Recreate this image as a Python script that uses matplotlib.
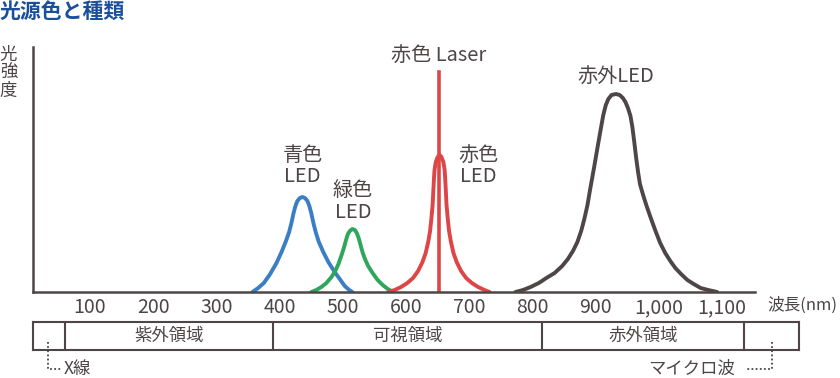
import matplotlib
matplotlib.use("Agg")
import matplotlib.pyplot as plt

plt.rcParams['font.family'] = ['Noto Sans CJK JP', 'DejaVu Sans']

# 波長 (nm) と 相対強度 (ピクセル相当の任意単位)
blue_nm = [357, 366, 375, 385, 395, 403, 410, 415, 419, 422, 425, 428, 432, 436, 440, 444, 447, 450, 453,
           457, 462, 469, 477, 486, 495, 503, 510, 515]
blue_i = [0, 4, 9, 18, 29, 40, 51, 60, 70, 79, 86, 91, 94, 95, 94, 91, 86, 79, 70,
          60, 50, 40, 30, 21, 13, 6, 2, 0]

green_nm = [450, 458, 466, 474, 482, 488, 493, 498, 502, 505, 508, 511, 515, 519, 522, 525, 528, 531, 535,
            540, 547, 555, 563, 571, 580]
green_i = [0, 2, 5, 9, 15, 21, 28, 37, 45, 52, 58, 61, 63, 62, 59, 54, 47, 40, 33,
           26, 19, 12, 7, 3, 0]

red_nm = [572, 582, 592, 602, 611, 619, 626, 631, 635, 638, 640, 642, 643, 644, 645, 647, 650, 653, 656,
          659, 661, 662, 663, 664, 666, 668, 671, 675, 680, 687, 695, 704, 714, 724, 732]
red_i = [0, 2, 5, 9, 14, 21, 30, 39, 50, 61, 73, 87, 100, 112, 122, 130, 135, 137, 135,
         130, 122, 112, 100, 87, 73, 61, 50, 39, 30, 21, 14, 9, 5, 2, 0]

ir_nm = [773, 785, 797, 810, 822, 835, 847, 856, 864, 871, 877, 882, 887, 891, 897, 903, 908, 912, 916,
         920, 925, 932, 938, 943, 947, 951, 955, 958, 961, 964, 967, 970, 975, 980, 986, 994, 1002, 1010,
         1018, 1026, 1035, 1045, 1055, 1066, 1078, 1092]
ir_i = [0, 2, 5, 9, 14, 19, 26, 33, 41, 50, 61, 73, 87, 102, 123, 145, 163, 177, 187,
        193, 197, 198, 197, 194, 190, 184, 176, 165, 150, 134, 120, 108, 97, 87, 76, 62, 49, 39,
        31, 24, 18, 12, 8, 4, 2, 0]

laser_nm = 652
laser_i = 220

ticks = [100, 200, 300, 400, 500, 600, 700, 800, 900, 1000, 1100]

band_edges = [60, 390, 815, 1135]
band_names = ['紫外領域', '可視領域', '赤外領域']

dark = '#4d4546'
c_blue = '#3a7fc3'
c_green = '#2fa75a'
c_red = '#dd4546'

fig = plt.figure(figsize=(8.4, 3.78), dpi=100)
ax = fig.add_axes([33/840, 86/378, 722/840, 245/378])

line = dict(lw=2.8, solid_capstyle='round', solid_joinstyle='round')
ax.plot(blue_nm, blue_i, color=c_blue, **line)
ax.plot(green_nm, green_i, color=c_green, **line)
ax.plot(red_nm, red_i, color=c_red, **line)
ax.plot(ir_nm, ir_i, color=dark, **line)
ax.plot([laser_nm, laser_nm], [0, laser_i], color=c_red, lw=2.6)

ax.set_xlim(9.8, 1152)
ax.set_ylim(0, 245)
for s in ['top', 'right']:
    ax.spines[s].set_visible(False)
for s in ['left', 'bottom']:
    ax.spines[s].set_color(dark)
    ax.spines[s].set_linewidth(1.8)
ax.set_yticks([])
ax.set_xticks(ticks)
ax.set_xticklabels(['{:,}'.format(t) for t in ticks])
ax.tick_params(axis='x', length=0, pad=3.5, labelsize=14, labelcolor=dark)

# ラベル
lab = dict(color=dark, fontsize=14.5, ha='center', va='center')
ax.text(652, 237, '赤色 Laser', **lab)
ax.text(436, 137, '青色', **lab)
ax.text(436, 115, 'LED', **lab)
ax.text(516, 102, '緑色', **lab)
ax.text(516, 80, 'LED', **lab)
ax.text(714, 137, '赤色', **lab)
ax.text(714, 115, 'LED', **lab)
ax.text(932, 216, '赤外LED', **lab)

fig.text(767/840, 1 - 305/378, '波長(nm)', color=dark, fontsize=12, ha='left', va='center')
fig.text(8.5/840, 1 - 55/378, '光', color=dark, fontsize=12.5, ha='center', va='center')
fig.text(8.5/840, 1 - 73/378, '強', color=dark, fontsize=12.5, ha='center', va='center')
fig.text(8.5/840, 1 - 91/378, '度', color=dark, fontsize=12.5, ha='center', va='center')
fig.text(0.0, 1 - 11/378, '光源色と種類', color='#1a4f9c', fontsize=15, fontweight='bold',
         ha='left', va='center')

# 下の帯
ax2 = fig.add_axes([33/840, 28/378, 766/840, 28/378])
ax2.set_xlim(9.8, 1221.6)
ax2.set_ylim(0, 1)
ax2.set_xticks([])
ax2.set_yticks([])
for s in ax2.spines.values():
    s.set_color(dark)
    s.set_linewidth(1.5)
for e in band_edges:
    ax2.axvline(e, color=dark, lw=1.5)
for i, name in enumerate(band_names):
    ax2.text((band_edges[i] + band_edges[i + 1]) / 2, 0.5, name, color=dark, fontsize=12.5,
             ha='center', va='center')

dot = dict(color=dark, lw=1.3, ls=(0, (1, 1.3)), clip_on=False)
ax2.plot([33.5, 33.5, 56], [0.29, -0.68, -0.68], **dot)
ax2.plot([1179, 1179, 1136], [0.29, -0.68, -0.68], **dot)
ax2.text(59, -0.68, 'X線', color=dark, fontsize=12.5, ha='left', va='center')
ax2.text(1120, -0.68, 'マイクロ波', color=dark, fontsize=12.5, ha='right', va='center')

fig.savefig('out.png', dpi=100)
